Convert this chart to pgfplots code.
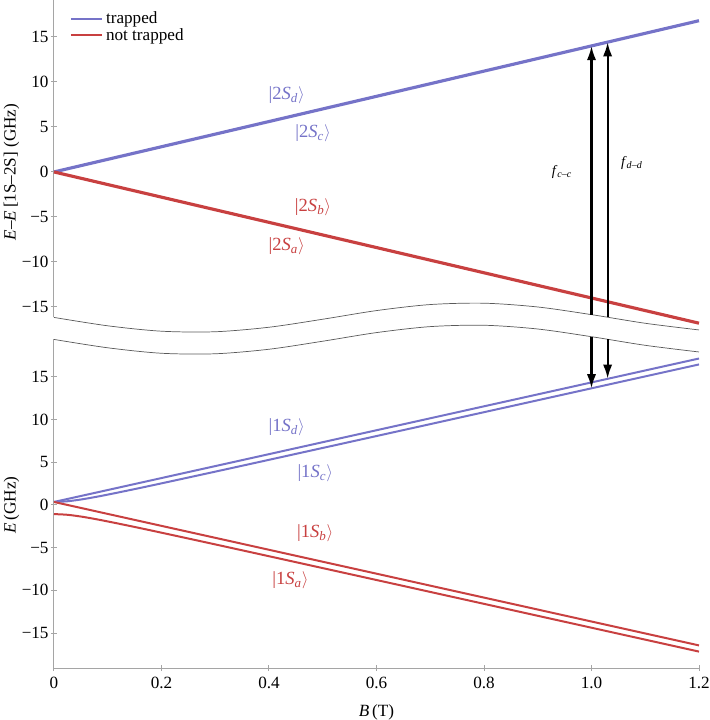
\documentclass[border=0pt]{standalone}
\usepackage{fontspec}
\setmainfont{Liberation Serif}
\usepackage{pgfplots}
\pgfplotsset{compat=1.18}
\usetikzlibrary{arrows.meta}
\definecolor{trapC}{RGB}{117,115,200}
\definecolor{notC}{RGB}{200,64,64}
\definecolor{axC}{RGB}{165,165,165}
\definecolor{waveC}{RGB}{90,90,90}
\newcommand{\ket}[2]{{\fontsize{13}{15}\selectfont|#1\textit{S}\textsubscript{\textit{#2}}$\rangle$}}
\newcommand{\fs}{\fontsize{12}{14}\selectfont}
\tikzset{arr/.style={black, line width=1.55pt, -{Latex[length=10pt,width=6.5pt]}}}
\pgfplotsset{
  common/.style={
    scale only axis, width=451.5pt,
    xmin=0, xmax=1.2,
    clip=false,
    tick align=inside, major tick length=4.2pt,
    tick style={draw=axC, line width=0.7pt},
    /pgf/number format/assume math mode=true,
    ytick={-15,-10,-5,0,5,10,15},
    yticklabels={−15,−10,−5,0,5,10,15},
    every tick label/.append style={font=\fs},
    yticklabel style={inner xsep=1.5pt},
    label style={font=\fs},
    every node/.append style={font=\fs},
  },
  nolinearrow/.style={
    axis line style={-, draw=axC, line width=0.7pt},
    every outer x axis line/.append style={-},
    every outer y axis line/.append style={-},
    every inner x axis line/.append style={-},
    every inner y axis line/.append style={-},
  },
}
\begin{document}
\begin{tikzpicture}
\path[use as bounding box] (-37.8pt,-36.4pt) rectangle (458.5pt,467.6pt);
% ---------------- bottom panel (1S) ----------------
\begin{axis}[common,
  at={(0,0)}, anchor=south west,
  height=230pt,
  ymin=-19.09, ymax=19.39,
  axis x line=bottom, axis y line=left,
  nolinearrow,
  xtick={0,0.2,0.4,0.6,0.8,1.0,1.2},
  xticklabels={0,0.2,0.4,0.6,0.8,1.0,1.2},
  xticklabel style={yshift=-1pt},
  xlabel={\textit{B}\,(T)},
  xlabel style={at={(axis description cs:0.5,-0.135)}, anchor=center},
  ylabel={\textit{E}\,(GHz)},
  ylabel style={at={(axis description cs:-0.066,0.496)}, anchor=center},
]
% wave (axis break)
\addplot[waveC, line width=0.5pt, smooth] coordinates {
(0,19.39) (0.1,18.41) (0.2,17.77) (0.3,17.71) (0.4,18.24) (0.5,19.18) (0.6,20.19)
(0.7,20.89) (0.8,21.05) (0.9,20.61) (1.0,19.71) (1.1,18.70) (1.2,17.92)};
% 1S_d
\addplot[trapC, line width=1.4pt] coordinates {
(0,0.355) (0.2,3.155) (0.4,5.955) (0.6,8.755) (0.8,11.555) (1.0,14.355) (1.2,17.155)};
% 1S_c
\addplot[trapC, line width=1.4pt, smooth] coordinates {
(0,0.355) (0.025,0.437) (0.05,0.642) (0.075,0.913) (0.1,1.215) (0.15,1.862) (0.2,2.534)
(0.3,3.905) (0.4,5.290) (0.6,8.075) (0.8,10.868) (1.0,13.663) (1.2,16.460)};
% 1S_b
\addplot[notC, line width=1.4pt] coordinates {
(0,0.355) (0.2,-2.445) (0.4,-5.245) (0.6,-8.045) (0.8,-10.845) (1.0,-13.645) (1.2,-16.445)};
% 1S_a
\addplot[notC, line width=1.4pt, smooth] coordinates {
(0,-1.065) (0.025,-1.147) (0.05,-1.352) (0.075,-1.623) (0.1,-1.925) (0.15,-2.572) (0.2,-3.244)
(0.3,-4.615) (0.4,-6.000) (0.6,-8.785) (0.8,-11.578) (1.0,-14.373) (1.2,-17.170)};
% arrows (lower parts)
\draw[arr] (axis cs:1.0,19.71) -- (axis cs:1.0,13.66);
\draw[arr] (axis cs:1.03,19.41) -- (axis cs:1.03,14.78);
% labels
\node[trapC] at (axis cs:0.433,9.1) {\ket{1}{d}};
\node[trapC] at (axis cs:0.486,3.7) {\ket{1}{c}};
\node[notC] at (axis cs:0.486,-3.3) {\ket{1}{b}};
\node[notC] at (axis cs:0.44,-8.8) {\ket{1}{a}};
\end{axis}
% ---------------- top panel (2S) ----------------
\begin{axis}[common,
  at={(0,245.4pt)}, anchor=south west,
  height=222.2pt,
  ymin=-16.16, ymax=19.1,
  axis y line=left, axis x line=none,
  nolinearrow,
  xtick=\empty,
  ylabel={\textit{E}–\textit{E}\,[1S–2S] (GHz)},
  ylabel style={at={(axis description cs:-0.066,0.458)}, anchor=center},
  legend image code/.code={\draw[#1] (0pt,0pt) -- (22pt,0pt);},
  legend style={draw=none, fill=none, at={(0.024,0.972)}, anchor=north west,
    font=\fs, row sep=-2.5pt,
    inner xsep=0pt, inner ysep=0pt},
  legend cell align=left,
]
\addlegendimage{trapC, line width=1.4pt}
\addlegendentry{trapped}
\addlegendimage{notC, line width=1.4pt}
\addlegendentry{not trapped}
% wave (axis break)
\addplot[waveC, line width=0.5pt, smooth, forget plot] coordinates {
(0,-16.16) (0.1,-17.09) (0.2,-17.69) (0.3,-17.75) (0.4,-17.25) (0.5,-16.36) (0.6,-15.40)
(0.7,-14.73) (0.8,-14.58) (0.9,-15.00) (1.0,-15.85) (1.1,-16.81) (1.2,-17.55)};
% 2S trapped (c,d)
\addplot[trapC, line width=2.2pt, forget plot] coordinates {(0,0) (0.6,8.4) (1.2,16.8)};
% 2S not trapped (a,b)
\addplot[notC, line width=2.2pt, forget plot] coordinates {(0,0) (0.6,-8.4) (1.2,-16.8)};
% arrows (upper parts)
\draw[arr] (axis cs:1.0,-15.85) -- (axis cs:1.0,14.0);
\draw[arr] (axis cs:1.03,-16.14) -- (axis cs:1.03,14.42);
% labels
\node[trapC] at (axis cs:0.433,8.55) {\ket{2}{d}};
\node[trapC] at (axis cs:0.482,4.3) {\ket{2}{c}};
\node[notC] at (axis cs:0.482,-3.9) {\ket{2}{b}};
\node[notC] at (axis cs:0.433,-8.3) {\ket{2}{a}};
\node at (axis cs:0.945,0) {\textit{f}\textsubscript{\textit{c}–\textit{c}}};
\node at (axis cs:1.075,1.0) {\textit{f}\textsubscript{\textit{d}–\textit{d}}};
\end{axis}
\end{tikzpicture}
\end{document}
